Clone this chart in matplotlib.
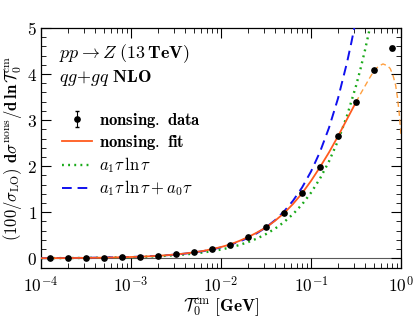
import matplotlib
matplotlib.use('Agg')
import matplotlib.pyplot as plt
import numpy as np
from matplotlib.ticker import FixedLocator, FuncFormatter, LogLocator, MultipleLocator, NullFormatter

plt.rcParams['mathtext.fontset'] = 'cm'
plt.rcParams['font.size'] = 10

# data points (log10 of T0cm) and values
data_logtau = [-3.9, -3.7, -3.5, -3.3, -3.1, -2.9, -2.7, -2.5, -2.3, -2.1,
               -1.9, -1.7, -1.5, -1.3, -1.1, -0.9, -0.7, -0.5, -0.3, -0.1]
data_val = [0.004, 0.006, 0.010, 0.015, 0.023, 0.035, 0.054, 0.085, 0.13, 0.20,
            0.30, 0.46, 0.67, 0.98, 1.41, 1.98, 2.65, 3.39, 4.08, 4.57]
data_err = [0.002, 0.002, 0.002, 0.002, 0.003, 0.003, 0.004, 0.005, 0.006, 0.008,
            0.01, 0.01, 0.012, 0.015, 0.02, 0.02, 0.025, 0.03, 0.03, 0.04]

# nonsingular fit (solid part)
fit_logtau = [-4.0, -3.9, -3.8, -3.7, -3.6, -3.5, -3.4, -3.3, -3.2, -3.1,
              -3.0, -2.9, -2.8, -2.7, -2.6, -2.5, -2.4, -2.3, -2.2, -2.1,
              -2.0, -1.9, -1.8, -1.7, -1.6, -1.5, -1.4, -1.3, -1.2, -1.1,
              -1.0, -0.9, -0.8, -0.7, -0.6, -0.5]
fit_val = [0.003, 0.004, 0.005, 0.006, 0.008, 0.010, 0.012, 0.015, 0.019, 0.023,
           0.029, 0.035, 0.044, 0.054, 0.068, 0.085, 0.105, 0.13, 0.16, 0.20,
           0.245, 0.30, 0.375, 0.46, 0.56, 0.67, 0.815, 0.98, 1.18, 1.41,
           1.68, 1.98, 2.30, 2.65, 3.02, 3.39]

# fit extrapolation (dashed part)
ext_logtau = [-0.5, -0.45, -0.4, -0.35, -0.3, -0.25, -0.2, -0.15, -0.12, -0.09,
              -0.06, -0.04, -0.02, 0.0]
ext_val = [3.39, 3.57, 3.74, 3.91, 4.07, 4.17, 4.22, 4.18, 4.12, 3.98,
           3.76, 3.50, 3.15, 2.68]

# a1 tau ln tau
a1_logtau = [-4.0, -3.5, -3.0, -2.7, -2.5, -2.4, -2.3, -2.2, -2.1, -2.0,
             -1.9, -1.8, -1.7, -1.6, -1.5, -1.4, -1.3, -1.2, -1.1, -1.0,
             -0.9, -0.8, -0.7, -0.6, -0.5, -0.45, -0.4, -0.35, -0.34]
a1_val = [0.003, 0.008, 0.024, 0.045, 0.068, 0.084, 0.105, 0.126, 0.155, 0.191,
          0.234, 0.287, 0.351, 0.430, 0.526, 0.644, 0.786, 0.959, 1.169, 1.424,
          1.732, 2.105, 2.553, 3.094, 3.742, 4.113, 4.520, 4.964, 5.058]

# a1 tau ln tau + a0 tau
a10_logtau = [-4.0, -3.5, -3.0, -2.7, -2.5, -2.4, -2.3, -2.2, -2.1, -2.0,
              -1.9, -1.8, -1.7, -1.6, -1.5, -1.4, -1.3, -1.2, -1.1, -1.0,
              -0.9, -0.8, -0.7, -0.6, -0.55, -0.52, -0.51]
a10_val = [0.003, 0.010, 0.029, 0.054, 0.082, 0.102, 0.128, 0.155, 0.192, 0.237,
           0.292, 0.360, 0.443, 0.546, 0.672, 0.827, 1.017, 1.250, 1.535, 1.884,
           2.311, 2.834, 3.471, 4.249, 4.699, 4.992, 5.09]

xticks = [1e-4, 1e-3, 1e-2, 1e-1, 1e0]
xtick_labels = [r'$\mathbf{10^{-4}}$', r'$\mathbf{10^{-3}}$', r'$\mathbf{10^{-2}}$',
                r'$\mathbf{10^{-1}}$', r'$\mathbf{10^{0}}$']


def tau(lg):
    return 10.0 ** np.array(lg)


fig = plt.figure(figsize=(4.15, 3.24), dpi=100)
ax = fig.add_axes([41 / 415, 1 - 268 / 324, 360 / 415, 240 / 324])

ax.axhline(0, color='0.35', lw=0.8, zorder=1)

ax.plot(tau(ext_logtau), ext_val, color='#ffa040', lw=1.0, ls=(0, (4, 2.5)), zorder=2)
ax.plot(tau(a1_logtau), a1_val, color='#1aaa1a', lw=1.7, ls=(0, (0.8, 1.8)),
        label=r'$a_1\tau\,\ln\tau$', zorder=3)
ax.plot(tau(a10_logtau), a10_val, color='#1010ee', lw=1.4, ls=(0, (5, 3)),
        label=r'$a_1\tau\,\ln\tau + a_0\tau$', zorder=4)
ax.plot(tau(fit_logtau), fit_val, color='#ff5a1e', lw=1.3,
        label=r'$\mathbf{nonsing.\ fit}$', zorder=5)
ax.errorbar(tau(data_logtau), data_val, yerr=data_err, fmt='o', color='black',
            ms=3.8, lw=0.8, capsize=1.5, label=r'$\mathbf{nonsing.\ data}$', zorder=6)

ax.set_xscale('log')
ax.set_xlim(1e-4, 1)
ax.set_ylim(-0.21, 5.0)

ax.xaxis.set_major_locator(FixedLocator(xticks))
ax.set_xticklabels(xtick_labels)
ax.xaxis.set_minor_locator(LogLocator(base=10, subs=np.arange(2, 10)))
ax.xaxis.set_minor_formatter(NullFormatter())
ax.yaxis.set_major_locator(MultipleLocator(1))
ax.yaxis.set_minor_locator(MultipleLocator(0.2))
ax.yaxis.set_major_formatter(FuncFormatter(lambda v, p: r'$\mathbf{%d}$' % round(v)))

ax.tick_params(which='both', direction='in', top=True, right=True, labelsize=12.5)
ax.tick_params(which='major', length=7, width=0.8)
ax.tick_params(which='minor', length=3.5, width=0.6)
ax.tick_params(axis='x', pad=6)
ax.tick_params(axis='y', pad=3)
for s in ax.spines.values():
    s.set_linewidth(0.9)

ax.set_xlabel(r'$\mathcal{T}_0^{\rm cm}\ \mathbf{[GeV]}$', fontsize=12.5, labelpad=-1)
ax.set_ylabel(r'$\mathbf{(100/}\sigma_{\rm LO}\mathbf{)}\ \mathbf{d}\sigma^{\rm nons}/\mathbf{d\,ln}\,\mathcal{T}_0^{\rm cm}$',
              fontsize=12, labelpad=2)

ax.text(0.05, 0.895, r'$pp \to Z\ \mathbf{(13\,TeV)}$', transform=ax.transAxes,
        fontsize=13, va='center', ha='left')
ax.text(0.05, 0.79, r'$qg\!+\!gq\ \mathbf{NLO}$', transform=ax.transAxes,
        fontsize=13, va='center', ha='left')

h, l = ax.get_legend_handles_labels()
order = [3, 2, 0, 1]
ax.legend([h[i] for i in order], [l[i] for i in order], loc='upper left',
          bbox_to_anchor=(0.058, 0.655), frameon=False, fontsize=12,
          borderpad=0, borderaxespad=0, handlelength=1.8, handletextpad=0.4,
          labelspacing=0.2)

fig.savefig('out.png', dpi=100)
